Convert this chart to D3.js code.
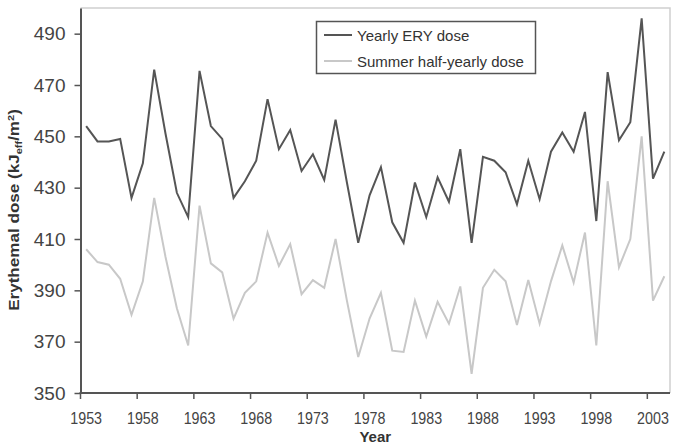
<!DOCTYPE html>
<meta charset="utf-8">
<title>Erythemal dose</title>
<style>
body { margin: 0; background: #fff; }
svg { display: block; font-family: "Liberation Sans", Arial, sans-serif; }
</style>
<svg width="678" height="444"></svg>
<script src="https://d3js.org/d3.v7.min.js"></script>
<script>
var years = [1953, 1954, 1955, 1956, 1957, 1958, 1959, 1960, 1961, 1962,
  1963, 1964, 1965, 1966, 1967, 1968, 1969, 1970, 1971, 1972,
  1973, 1974, 1975, 1976, 1977, 1978, 1979, 1980, 1981, 1982,
  1983, 1984, 1985, 1986, 1987, 1988, 1989, 1990, 1991, 1992,
  1993, 1994, 1995, 1996, 1997, 1998, 1999, 2000, 2001, 2002,
  2003, 2004]

var yearly = [454, 448, 448, 449, 426, 439.5, 476, 451, 428, 418.5,
  475.5, 454, 449, 426, 432.5, 440.5, 464.5, 445, 452.5, 436.5,
  443, 433, 456.5, 432, 408.5, 427, 438, 416.5, 408.5, 432,
  418.5, 434, 424.5, 445, 408.5, 442, 440.5, 436, 423.5, 440.5,
  425.5, 444, 451.5, 444, 459.5, 417, 475, 448.5, 455.5, 496,
  433.5, 444]

var summer = [406, 401, 400, 394.5, 380.5, 393.5, 426, 403, 383, 368.5,
  423, 400.5, 397, 379, 389, 393.5, 412.5, 399.5, 408, 388.5,
  394, 391, 410, 386, 364, 379, 389, 366.5, 366, 386,
  372, 385.5, 377, 391.5, 357.5, 391, 398, 393.5, 376.5, 394,
  377, 393.5, 407.5, 393, 412.5, 368.5, 432.5, 399, 410, 450,
  386, 395.5]

var yTicks = [350, 370, 390, 410, 430, 450, 470, 490]
var xTickYears = [1953, 1958, 1963, 1968, 1973, 1978, 1983, 1988, 1993, 1998, 2003]

var seriesNames = ["Yearly ERY dose", "Summer half-yearly dose"]
var seriesColors = ["#555555", "#c8c8c8"]

var svg = d3.select("svg"),
  plotLeft = 80.5, plotRight = 670, plotTop = 8, plotBottom = 393

var x = d3.scaleBand().domain(years).range([plotLeft, plotRight])
var y = d3.scaleLinear().domain([350, 500]).range([plotBottom, plotTop])
var cx = function(yr) { return x(yr) + x.bandwidth() / 2 }

// plot border (top/right light)
svg.append("path")
  .attr("d", "M" + plotLeft + "," + plotTop + "H" + plotRight + "V" + plotBottom)
  .attr("fill", "none").attr("stroke", "#cfcfcf").attr("stroke-width", 1.5)

// series lines
var line = d3.line()
  .x(function(d, i) { return cx(years[i]) })
  .y(function(d) { return y(d) })

;[summer, yearly].forEach(function(s, k) {
  svg.append("path")
    .datum(s)
    .attr("fill", "none")
    .attr("stroke", k == 0 ? seriesColors[1] : seriesColors[0])
    .attr("stroke-width", 2)
    .attr("d", line)
})

// y axis
var yAxis = svg.append("g")
  .attr("transform", "translate(" + plotLeft + ",0)")
  .call(d3.axisLeft(y).tickValues(yTicks).tickSize(6).tickPadding(9).tickSizeOuter(0))
yAxis.select(".domain").attr("stroke", "#555").attr("stroke-width", 2)
yAxis.selectAll(".tick line").attr("stroke", "#555").attr("stroke-width", 1.5)
yAxis.selectAll(".tick text")
  .attr("font-size", "19px").attr("fill", "#444")
  .attr("font-family", "Liberation Sans, Arial, sans-serif")

// x axis
svg.append("line")
  .attr("x1", plotLeft - 1).attr("x2", plotRight)
  .attr("y1", plotBottom).attr("y2", plotBottom)
  .attr("stroke", "#555").attr("stroke-width", 2)

svg.append("g").selectAll("line")
  .data(xTickYears)
  .join("line")
    .attr("x1", function(d) { return x(d) })
    .attr("x2", function(d) { return x(d) })
    .attr("y1", plotBottom).attr("y2", plotBottom + 6)
    .attr("stroke", "#555").attr("stroke-width", 1.5)

svg.append("g").selectAll("text")
  .data(xTickYears)
  .join("text")
    .attr("transform", function(d) { return "translate(" + cx(d) + ",424) scale(0.84,1)" })
    .attr("text-anchor", "middle")
    .attr("font-size", "17px")
    .attr("fill", "#444")
    .text(function(d) { return d })

// axis titles
svg.append("text")
  .attr("x", (plotLeft + plotRight) / 2).attr("y", 442)
  .attr("text-anchor", "middle")
  .attr("font-size", "15px").attr("font-weight", "bold").attr("fill", "#333")
  .text("Year")

var yt = svg.append("text")
  .attr("transform", "translate(18.5,210) rotate(-90) scale(1.22,1)")
  .attr("text-anchor", "middle")
  .attr("font-size", "14px").attr("font-weight", "bold").attr("fill", "#333")
yt.append("tspan").text("Erythemal dose (kJ")
yt.append("tspan").attr("font-size", "9px").attr("dy", 3).text("eff")
yt.append("tspan").attr("dy", -3).text("/m")
yt.append("tspan").attr("font-size", "9px").attr("dy", -5).text("2")
yt.append("tspan").attr("dy", 5).text(")")

// legend
var legend = svg.append("g")
legend.append("rect")
  .attr("x", 316.5).attr("y", 21.5).attr("width", 219).attr("height", 52)
  .attr("fill", "#fff").attr("stroke", "#555").attr("stroke-width", 1.5)

var li = legend.selectAll("g.item")
  .data(seriesNames)
  .join("g")
    .attr("class", "item")
    .attr("transform", function(d, i) { return "translate(0," + (35 + i * 26) + ")" })
li.append("line")
  .attr("x1", 324).attr("x2", 352)
  .attr("stroke", function(d, i) { return seriesColors[i] })
  .attr("stroke-width", 2)
li.append("text")
  .attr("x", 357).attr("y", 5.5)
  .attr("font-size", "15px").attr("fill", "#333")
  .text(function(d) { return d })
</script>
